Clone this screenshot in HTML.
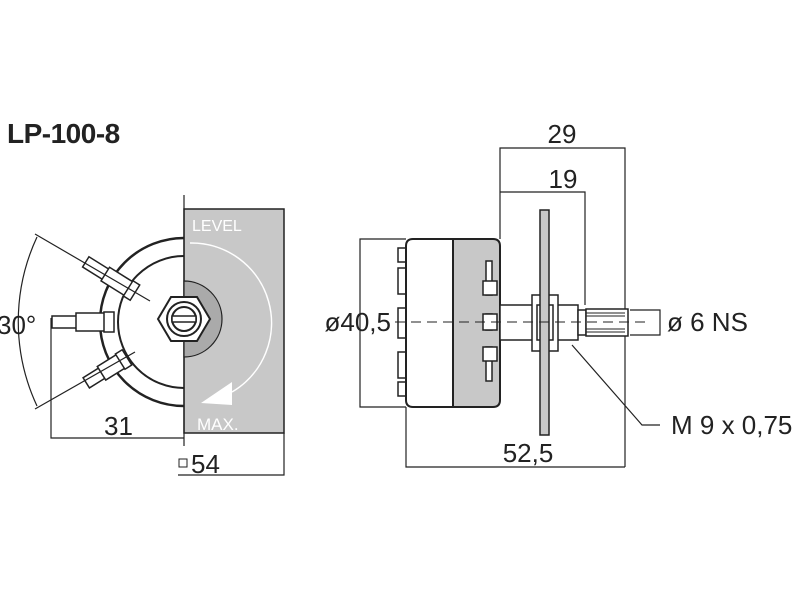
<!DOCTYPE html>
<html><head><meta charset="utf-8"><style>
html,body{margin:0;padding:0;background:#fff;}
svg{display:block;}
text{font-family:"Liberation Sans",sans-serif;fill:#222;}
</style></head><body>
<svg width="800" height="600" viewBox="0 0 800 600" xmlns="http://www.w3.org/2000/svg">
<text x="7" y="143" font-size="28" font-weight="bold" letter-spacing="-0.5">LP-100-8</text>

<!-- LEFT VIEW -->
<g stroke="#222" fill="none">
  <path d="M184,238 A84,84 0 0 0 184,406" stroke-width="2.5"/>
  <path d="M184,256 A66,66 0 0 0 184,388" stroke-width="2"/>
</g>
<rect x="184" y="209" width="100" height="224" fill="#c8c8c8" stroke="#222" stroke-width="1.5"/>
<line x1="184" y1="195" x2="184" y2="446" stroke="#222" stroke-width="1.2"/>
<path d="M190,243 A80,80 0 0 1 232,392" stroke="#fff" stroke-width="1.5" fill="none"/>
<polygon points="201,403 232,382 232,405" fill="#fff"/>
<text x="192" y="231" font-size="16" style="fill:#fff">LEVEL</text>
<text x="197" y="430" font-size="17" style="fill:#fff">MAX.</text>
<!-- nut -->
<path d="M184,281 A38,38 0 0 1 184,357 Z" fill="#aaa" stroke="#222" stroke-width="1.2"/>
<polygon points="171,297 197,297 210,319 197,341 171,341 158,319" fill="#fff" stroke="#222" stroke-width="2"/>
<circle cx="184" cy="319" r="17" fill="#fff" stroke="#222" stroke-width="2"/>
<circle cx="184" cy="319" r="12" fill="#fff" stroke="#222" stroke-width="2"/>
<rect x="172" y="316" width="24" height="6" fill="#fff" stroke="#222" stroke-width="1.5"/>
<!-- terminals -->
<g stroke="#222" stroke-width="1.5" fill="#fff">
  <rect x="52" y="316" width="58" height="12"/>
  <rect x="76" y="313" width="30" height="18"/>
  <rect x="104" y="312" width="10" height="20"/>
  <g transform="translate(118,282) rotate(32)">
    <rect x="-38" y="-6" width="50" height="12"/><rect x="-15" y="-8" width="30" height="16"/><rect x="12" y="-9" width="8" height="18"/>
  </g>
  <g transform="translate(110,368) rotate(-32)">
    <rect x="-28" y="-6" width="40" height="12"/><rect x="-10" y="-8" width="24" height="16"/><rect x="12" y="-9" width="8" height="18"/>
  </g>
</g>
<g stroke="#222" stroke-width="1.2" fill="none">
  <line x1="35" y1="234" x2="150" y2="301"/>
  <line x1="35" y1="409" x2="135" y2="352"/>
  <path d="M37,237 A200,200 0 0 0 37,406"/>
  <polyline points="51,318 51,438 184,438"/>
  <polyline points="178,475 284,475 284,433"/>
</g>
<text x="-3" y="334" font-size="26">30°</text>
<text x="104" y="435" font-size="26">31</text>
<rect x="179" y="459" width="8" height="8" fill="none" stroke="#222" stroke-width="1"/>
<text x="191" y="473" font-size="26">54</text>

<!-- RIGHT VIEW -->
<g stroke="#222" stroke-width="1.2" fill="none">
  <polyline points="500,239 500,148 625,148 625,467"/>
  <polyline points="500,192 585,192 585,305"/>
  <polyline points="406,239 360,239 360,407 406,407"/>
  <polyline points="406,407 406,467 625,467"/>
  <polyline points="572,345 642,425 660,425"/>
  <polyline points="630,310 660,310 660,335 630,335"/>
</g>
<g stroke="#222" stroke-width="1.5" fill="#fff">
  <rect x="398" y="248" width="8" height="14"/><rect x="398" y="268" width="8" height="26"/>
  <rect x="398" y="308" width="8" height="30"/>
  <rect x="398" y="352" width="8" height="26"/><rect x="398" y="382" width="8" height="14"/>
</g>
<path d="M413,239 H453 V407 H413 Q406,407 406,400 V246 Q406,239 413,239 Z" fill="#fff" stroke="#222" stroke-width="2"/>
<path d="M453,239 H493 Q500,239 500,246 V400 Q500,407 493,407 H453 Z" fill="#c8c8c8" stroke="#222" stroke-width="2"/>
<g stroke="#222" stroke-width="1.5" fill="#fff">
  <rect x="486" y="261" width="6" height="34"/><rect x="483" y="281" width="14" height="14"/>
  <rect x="486" y="314" width="6" height="16"/><rect x="483" y="314" width="14" height="16"/>
  <rect x="486" y="347" width="6" height="34"/><rect x="483" y="347" width="14" height="14"/>
</g>
<g stroke="#222" stroke-width="1.5" fill="#fff">
  <rect x="500" y="305" width="78" height="35"/>
  <rect x="532" y="295" width="26" height="56"/>
  <rect x="537" y="305" width="16" height="35"/>
  <rect x="540" y="210" width="9" height="225" fill="#c8c8c8"/>
  <rect x="578" y="310" width="8" height="25"/>
  <rect x="586" y="309" width="42" height="27"/>
</g>
<g stroke="#222" stroke-width="1">
  <line x1="586" y1="313" x2="625" y2="313"/><line x1="586" y1="316" x2="625" y2="316"/>
  <line x1="586" y1="329" x2="625" y2="329"/><line x1="586" y1="332" x2="625" y2="332"/>
</g>
<line x1="395" y1="322" x2="650" y2="322" stroke="#222" stroke-width="1" stroke-dasharray="10,6"/>
<text x="562" y="143" font-size="26" text-anchor="middle">29</text>
<text x="563" y="188" font-size="26" text-anchor="middle">19</text>
<text x="391" y="331" font-size="26" text-anchor="end">ø40,5</text>
<text x="667" y="331" font-size="26">ø 6 NS</text>
<text x="528" y="462" font-size="26" text-anchor="middle">52,5</text>
<text x="671" y="434" font-size="26">M 9 x 0,75</text>
</svg>
</body></html>
